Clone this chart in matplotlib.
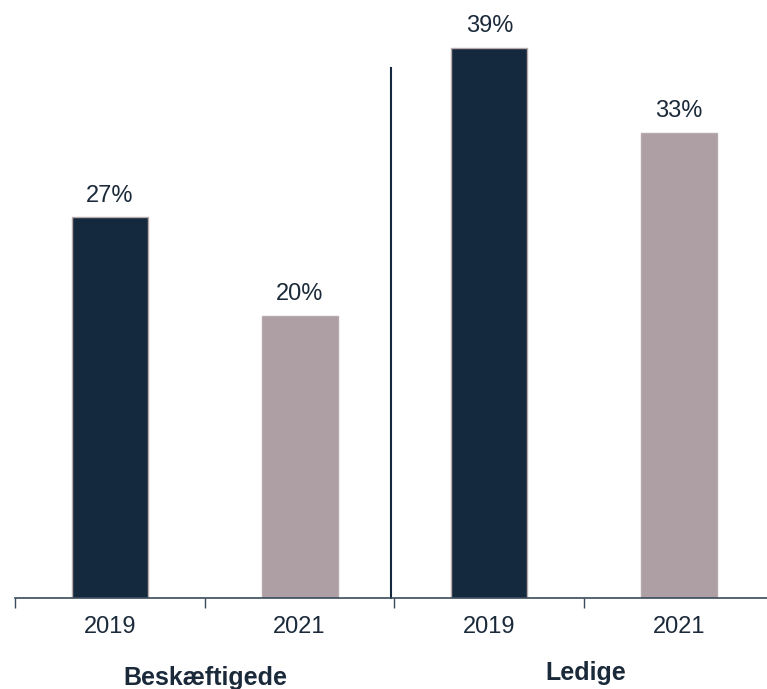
import matplotlib
matplotlib.use("Agg")
import matplotlib.pyplot as plt
import numpy as np

years = ["2019", "2021", "2019", "2021"]
values = [27, 20, 39, 33]
groups = ["Beskæftigede", "Ledige"]
colors = ["#14293d", "#ad9fa3", "#14293d", "#ad9fa3"]

plt.rcParams['font.family'] = ['Liberation Sans', 'DejaVu Sans']

fig = plt.figure(figsize=(7.67, 6.89), dpi=100)
ax = fig.add_axes([15/767, 91/689, 759/767, 598/689])
x = np.arange(len(values))
ax.bar(x, values, width=0.4, color=colors, edgecolor="#b8a9ad", linewidth=1.0)
for xi, v in zip(x, values):
    ax.text(xi, v + 1.1, f"{v}%", ha="center", va="baseline", fontsize=17, color="#1b2a3a")

ax.set_xlim(-0.5, 3.5)
ax.set_ylim(0, 42.4)
ax.set_yticks([])
for s in ["top", "right", "left"]:
    ax.spines[s].set_visible(False)
ax.spines["bottom"].set_color("#3a4a5a")
ax.spines["bottom"].set_linewidth(1.2)

ax.set_xticks([-0.5, 0.5, 1.5, 2.5])
ax.set_xticklabels([])
ax.tick_params(axis="x", which="major", length=7, width=1.0, color="#3a4a5a", direction="out")
ax.set_xticks(x, minor=True)
ax.set_xticklabels(years, minor=True)
ax.tick_params(axis="x", which="minor", length=0, pad=13, labelsize=17, labelcolor="#1b2a3a")

ax.plot([1.48, 1.48], [0, 37.6], color="#14293d", linewidth=1.5, clip_on=False)

fig.text(205.5/767, 1 - 685/689, groups[0], ha="center", va="baseline", fontsize=18, fontweight="bold", color="#1b2a3a")
fig.text(586/767, 1 - 680/689, groups[1], ha="center", va="baseline", fontsize=18, fontweight="bold", color="#1b2a3a")

fig.savefig("out.png", dpi=100)
